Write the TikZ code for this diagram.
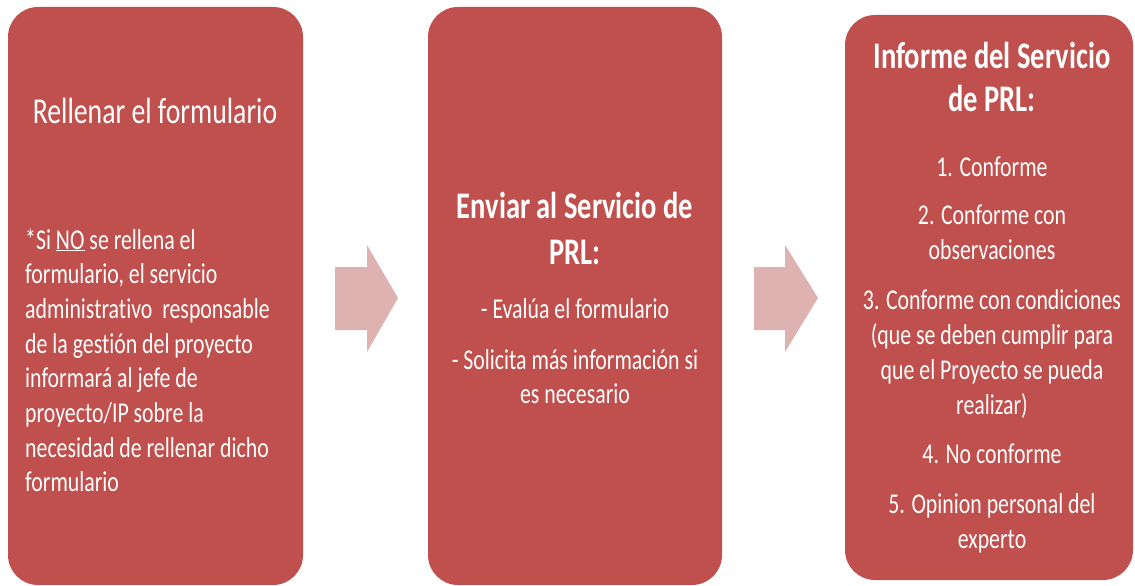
\documentclass[tikz,border=0pt]{standalone}
\usepackage{fontspec}
\setmainfont{Carlito}[FakeStretch=0.76, Ligatures={NoCommon}]
\definecolor{boxred}{HTML}{C0504D}
\definecolor{arrowpink}{HTML}{DDB2B1}
\tikzset{
  box/.style={fill=boxred, draw=none, rounded corners=30pt, inner sep=0pt},
  ttl/.style={text=white, anchor=base, inner sep=0pt, font=\fontsize{37.5}{44}\selectfont\bfseries},
  ttlr/.style={text=white, anchor=base, inner sep=0pt, font=\fontsize{36.5}{44}\selectfont},
  txt/.style={text=white, anchor=base, inner sep=0pt, font=\fontsize{28.7}{34}\selectfont},
  txtl/.style={txt, anchor=base west},
  bigarrow/.style={fill=arrowpink, draw=none}
}
\begin{document}
\begin{tikzpicture}[x=1pt,y=-1pt]
\useasboundingbox (0,0) rectangle (1135,586);
% boxes
\node[box, minimum width=295pt, minimum height=578pt] (b1) at (155.5,296) {};
\node[box, minimum width=294pt, minimum height=578pt] (b2) at (575,296) {};
\node[box, minimum width=288pt, minimum height=565pt] (b3) at (989,297.5) {};
% arrows
\fill[bigarrow] (335,267) -- (367,267) -- (367,245) -- (398,298) -- (367,352) -- (367,330) -- (335,330) -- cycle;
\fill[bigarrow] (754,267) -- (785,267) -- (785,245) -- (818,298) -- (785,352) -- (785,330) -- (754,330) -- cycle;
% box 1
\node[ttlr] (t1) at (155,123) {Rellenar el formulario};
\node[txtl] (l1) at (25,249) {*Si \underline{NO} se rellena el};
\node[txtl] (l2) at (25,283.7) {formulario, el servicio};
\node[txtl] (l3) at (25,318.4) {administrativo\ \ responsable};
\node[txtl] (l4) at (25,353.1) {de la gestión del proyecto};
\node[txtl] (l5) at (25,387.8) {informará al jefe de};
\node[txtl] (l6) at (25,422.5) {proyecto/IP sobre la};
\node[txtl] (l7) at (25,457.2) {necesidad de rellenar dicho};
\node[txtl] (l8) at (25,491.9) {formulario};
% box 2
\node[ttl] (t2a) at (575,218) {Enviar al Servicio de};
\node[ttl] (t2b) at (575,264) {PRL:};
\node[txt] (m1) at (575,318) {- Evalúa el formulario};
\node[txt] (m2) at (575,369) {- Solicita más información si};
\node[txt] (m3) at (575,403) {es necesario};
% box 3
\node[ttl] (t3a) at (992,68) {Informe del Servicio};
\node[ttl] (t3b) at (992,111) {de PRL:};
\node[txt] (r1) at (992,176) {1. Conforme};
\node[txt] (r2) at (992,224) {2. Conforme con};
\node[txt] (r3) at (992,259) {observaciones};
\node[txt] (r4) at (992,309) {3. Conforme con condiciones};
\node[txt] (r5) at (992,344) {(que se deben cumplir para};
\node[txt] (r6) at (992,379) {que el Proyecto se pueda};
\node[txt] (r7) at (992,414) {realizar)};
\node[txt] (r8) at (992,463) {4. No conforme};
\node[txt] (r9) at (992,513) {5. Opinion personal del};
\node[txt] (r10) at (992,548) {experto};
\end{tikzpicture}
\end{document}
